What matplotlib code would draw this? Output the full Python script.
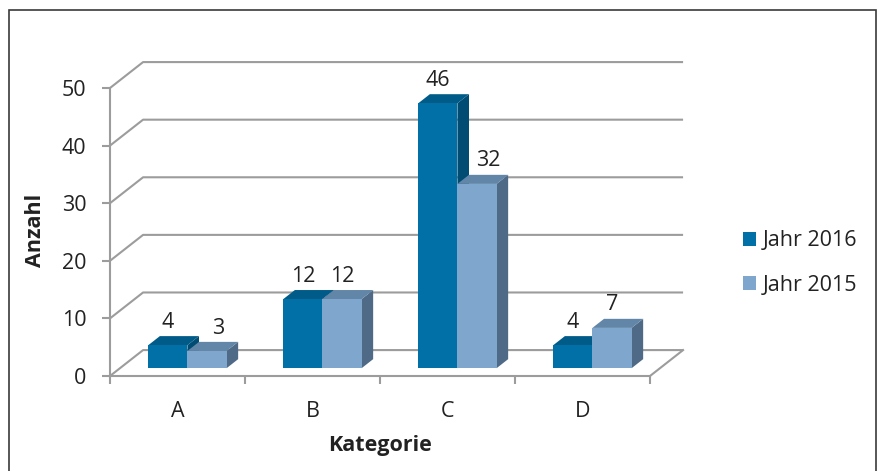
import matplotlib.pyplot as plt
from matplotlib.patches import Polygon, Rectangle

categories = ["A", "B", "C", "D"]
series_names = ["Jahr 2016", "Jahr 2015"]
jahr_2016 = [4, 12, 46, 4]
jahr_2015 = [3, 12, 32, 7]
y_ticks = [0, 10, 20, 30, 40, 50]

# front / top / side shades per series
front_colors = ["#0070a6", "#7fa7cd"]
top_colors = ["#005b88", "#6286a8"]
side_colors = ["#004c72", "#4f6a86"]
grid_color = "#9c9c9c"
text_color = "#222222"
fs = 15.5

plt.rcParams["font.family"] = ["Open Sans", "DejaVu Sans"]

fig = plt.figure(figsize=(8.81, 4.71), dpi=100)
ax = fig.add_axes([110 / 881, 95 / 471, 540 / 881, 288 / 471])

n_cat = len(categories)
ax.set_xlim(0, n_cat)
ax.set_ylim(0, y_ticks[-1])

# oblique depth of the floor / back wall, in data units
DX = 0.245
DY = 4.5

# back wall gridlines with their diagonal on the left wall
for v in y_ticks:
    ax.plot([0, DX, n_cat + DX], [v, v + DY, v + DY], color=grid_color,
            lw=1.5, clip_on=False, zorder=1, solid_capstyle="butt")
# right edge of the floor
ax.plot([n_cat, n_cat + DX], [0, DY], color=grid_color, lw=1.5,
        clip_on=False, zorder=1)

# bars sit in the middle of the floor depth
bar_w = 0.29
shift_x, shift_y = 0.30 * DX, 0.30 * DY
depth_x, depth_y = 0.35 * DX, 0.35 * DY

series = [jahr_2016, jahr_2015]
for i in range(n_cat):
    left = i + 0.5 + shift_x - bar_w * len(series) / 2
    for j, values in enumerate(series):
        v = values[i]
        x0 = left + j * bar_w
        b = shift_y
        front = Rectangle((x0, b), bar_w, v, facecolor=front_colors[j],
                          edgecolor="none", zorder=3 + j, clip_on=False)
        top = Polygon([(x0, b + v), (x0 + bar_w, b + v),
                       (x0 + bar_w + depth_x, b + v + depth_y),
                       (x0 + depth_x, b + v + depth_y)],
                      closed=True, facecolor=top_colors[j], edgecolor="none",
                      zorder=3 + j, clip_on=False)
        side = Polygon([(x0 + bar_w, b), (x0 + bar_w + depth_x, b + depth_y),
                        (x0 + bar_w + depth_x, b + v + depth_y),
                        (x0 + bar_w, b + v)],
                       closed=True, facecolor=side_colors[j], edgecolor="none",
                       zorder=3 + j, clip_on=False)
        for p in (side, top, front):
            ax.add_patch(p)

        # move the label right when the neighbour bar on the left is taller
        lx = x0 + bar_w / 2
        if j > 0 and series[j - 1][i] > v:
            lx += depth_x
        ax.annotate(str(v), xy=(lx, b + v + depth_y), xytext=(0, 6),
                    textcoords="offset points", ha="center", va="baseline",
                    fontsize=fs, color=text_color, zorder=10,
                    annotation_clip=False)

# axes: front vertical axis and floor front edge
for name in ("top", "right"):
    ax.spines[name].set_visible(False)
for name in ("left", "bottom"):
    ax.spines[name].set_color(grid_color)
    ax.spines[name].set_linewidth(1.5)
    ax.spines[name].set_zorder(2)

ax.set_yticks(y_ticks)
ax.tick_params(axis="y", length=6, width=1.5, color=grid_color, pad=11,
               labelsize=fs, labelcolor=text_color)
ax.set_xticks(range(n_cat + 1))
ax.set_xticklabels([])
ax.set_xticks([i + 0.5 for i in range(n_cat)], minor=True)
ax.set_xticklabels(categories, minor=True)
ax.tick_params(axis="x", which="major", length=6, width=1.5, color=grid_color)
ax.tick_params(axis="x", which="minor", length=0, pad=18, labelsize=fs,
               labelcolor=text_color)
ax.patch.set_visible(False)

ax.set_xlabel("Kategorie", fontsize=fs, fontweight="bold", color=text_color)
ax.xaxis.set_label_coords(0.5, -0.205)
ax.set_ylabel("Anzahl", fontsize=fs, fontweight="bold", color=text_color)
ax.yaxis.set_label_coords(-0.118, 0.507)

handles = [Rectangle((0, 0), 1, 1, facecolor=c, edgecolor="none")
           for c in front_colors]
fig.legend(handles, series_names, loc="center left",
           bbox_to_anchor=(743 / 881, 1 - 263 / 471), frameon=False,
           fontsize=fs, handlelength=0.62, handleheight=0.62,
           handletextpad=0.3, labelspacing=1.1, borderpad=0,
           borderaxespad=0, labelcolor=text_color)

# outer frame around the chart
fig.add_artist(Rectangle((9 / 881, -0.05), 867 / 881, 1.05 - 10 / 471,
                         transform=fig.transFigure, fill=False,
                         edgecolor="#3a3a3a", lw=1.2))

fig.savefig("out.png", dpi=100, facecolor="white")
